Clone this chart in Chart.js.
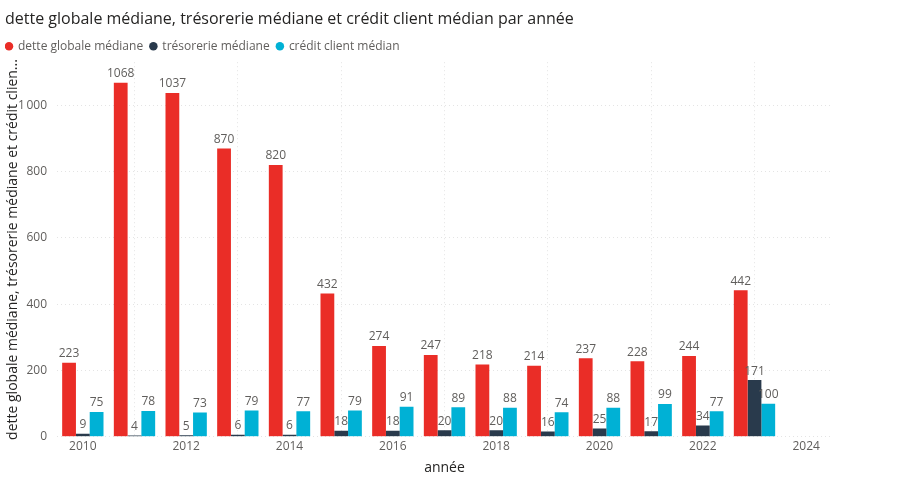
<!DOCTYPE html>
<html>
<head>
<meta charset="utf-8">
<script src="https://cdn.jsdelivr.net/npm/chart.js@4.4.1/dist/chart.umd.min.js"></script>
<style>
  html, body { margin: 0; padding: 0; background: #fff; }
  #wrap { width: 900px; height: 483px; position: relative; }
</style>
</head>
<body>
<div id="wrap"><canvas id="chart"></canvas></div>
<script>
// Chart data
const years = [2010, 2011, 2012, 2013, 2014, 2015, 2016, 2017, 2018, 2019, 2020, 2021, 2022, 2023];
const detteGlobale = [223, 1068, 1037, 870, 820, 432, 274, 247, 218, 214, 237, 228, 244, 442];
const tresorerie = [9, 4, 5, 6, 6, 18, 18, 20, 20, 16, 25, 17, 34, 171];
const creditClient = [75, 78, 73, 79, 77, 79, 91, 89, 88, 74, 88, 99, 77, 100];
const xTicks = [2010, 2012, 2014, 2016, 2018, 2020, 2022, 2024];
const yTicks = [0, 200, 400, 600, 800, 1000];

const FONT = '"Open Sans", "Segoe UI", sans-serif';

/**
 * Draw the value above every bar
 */
const barLabels = {
    id: 'barLabels',
    afterDatasetsDraw(chart) {
        const ctx = chart.ctx;
        ctx.save();
        ctx.font = '12px ' + FONT;
        ctx.fillStyle = '#605e5c';
        ctx.textAlign = 'center';
        ctx.textBaseline = 'bottom';
        chart.data.datasets.forEach((ds, i) => {
            chart.getDatasetMeta(i).data.forEach((bar, j) => {
                ctx.fillText(ds.data[j].y, bar.x, bar.y - 3);
            });
        });
        ctx.restore();
    }
};

function toPoints(values) {
    return values.map((v, i) => ({ x: years[i], y: v }));
}

function formatThousands(v) {
    return v >= 1000 ? String(v).replace(/\B(?=(\d{3})+(?!\d))/g, '\u202F') : String(v);
}

new Chart(document.getElementById('chart'), {
    type: 'bar',
    data: {
        datasets: [
            { label: 'dette globale médiane', data: toPoints(detteGlobale), backgroundColor: '#ea2d27' },
            { label: 'trésorerie médiane', data: toPoints(tresorerie), backgroundColor: '#293a4c' },
            { label: 'crédit client médian', data: toPoints(creditClient), backgroundColor: '#00b1d5' }
        ]
    },
    options: {
        responsive: true,
        maintainAspectRatio: false,
        animation: false,
        categoryPercentage: 0.8,
        barPercentage: 1,
        layout: { padding: { left: 5, right: 68, top: 8, bottom: 3 } },
        plugins: {
            title: {
                display: true,
                text: 'dette globale médiane, trésorerie médiane et crédit client médian par année',
                align: 'start',
                color: '#252423',
                font: { family: FONT, size: 16, weight: 'normal' },
                padding: { top: 2, bottom: 10 }
            },
            legend: {
                align: 'start',
                labels: {
                    usePointStyle: true,
                    pointStyle: 'circle',
                    boxWidth: 6,
                    boxHeight: 6,
                    padding: 1,
                    color: '#605e5c',
                    font: { family: FONT, size: 12 },
                    generateLabels: chart => Chart.defaults.plugins.legend.labels.generateLabels(chart)
                        .map(item => ({ ...item, text: item.text + '  ' }))
                }
            },
            tooltip: { enabled: false }
        },
        scales: {
            x: {
                type: 'linear',
                min: 2009.5,
                max: 2024.5,
                offset: false,
                afterBuildTicks: scale => { scale.ticks = xTicks.map(v => ({ value: v })); },
                ticks: {
                    color: '#605e5c',
                    font: { family: FONT, size: 12 },
                    callback: v => String(v),
                    maxRotation: 0
                },
                grid: { color: '#e4e4e4', drawTicks: false },
                border: { display: false, dash: [1, 3] },
                title: {
                    display: true,
                    text: 'année',
                    color: '#252423',
                    font: { family: FONT, size: 14 },
                    padding: { top: 2 }
                }
            },
            y: {
                min: 0,
                max: 1130,
                afterBuildTicks: scale => { scale.ticks = yTicks.map(v => ({ value: v })); },
                afterFit: scale => { scale.width = 52; },
                ticks: {
                    color: '#605e5c',
                    font: { family: FONT, size: 12 },
                    padding: 10,
                    callback: v => formatThousands(v)
                },
                grid: { color: '#e4e4e4', drawTicks: false },
                border: { display: false, dash: [1, 3] },
                title: {
                    display: true,
                    text: 'dette globale médiane, trésorerie médiane et crédit clien...',
                    color: '#252423',
                    font: { family: FONT, size: 14 },
                    padding: { top: 0, bottom: 2 }
                }
            }
        }
    },
    plugins: [barLabels]
});
</script>
</body>
</html>
